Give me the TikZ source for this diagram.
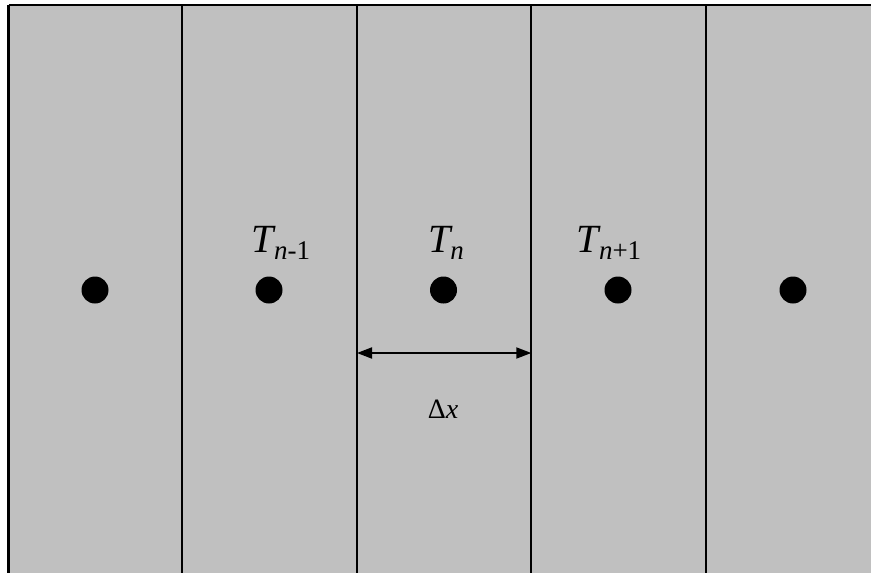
\documentclass[tikz,border=0pt]{standalone}
\usepackage{fontspec}
\setmainfont{Liberation Serif}
\newfontfamily\timesf{Liberation Serif}
\usetikzlibrary{arrows.meta}
\definecolor{cellgray}{RGB}{192,192,192}
\tikzset{
  wall/.style={line width=2pt, black},
  dotnode/.style={circle, fill=black, minimum size=27pt, inner sep=0pt},
  tlabel/.style={inner sep=0pt, anchor=base, font=\timesf},
  dimarrow/.style={line width=1.8pt, {Triangle[length=15pt,width=11pt]}-{Triangle[length=15pt,width=11pt]}}
}
\newcommand{\bigT}{{\fontsize{40}{42}\selectfont\timesf\itshape T}}
\newcommand{\subtxt}[1]{\raisebox{-7pt}{\fontsize{27}{28}\selectfont\timesf #1}}
\begin{document}
\begin{tikzpicture}[x=1pt,y=-1pt]
\useasboundingbox (0,0) rectangle (871,573);
\fill[cellgray] (8.7,5) rectangle (871,573);
% walls
\coordinate (w0t) at (8.7,5);   \coordinate (w0b) at (8.7,573);
\coordinate (w1t) at (182.3,5); \coordinate (w1b) at (182.3,573);
\coordinate (w2t) at (357,5);   \coordinate (w2b) at (357,573);
\coordinate (w3t) at (531.3,5); \coordinate (w3b) at (531.3,573);
\coordinate (w4t) at (705.8,5); \coordinate (w4b) at (705.8,573);
\coordinate (tr) at (871,5);
\draw[wall, line width=2.6pt] (w0b) -- (w0t);
\draw[wall] (w0t) -- (tr);
\draw[wall] (w1t) -- (w1b);
\draw[wall] (w2t) -- (w2b);
\draw[wall] (w3t) -- (w3b);
\draw[wall] (w4t) -- (w4b);
% dots
\node[dotnode] (d1) at (95,290) {};
\node[dotnode] (d2) at (269,290) {};
\node[dotnode] (d3) at (443.5,290) {};
\node[dotnode] (d4) at (618,290) {};
\node[dotnode] (d5) at (793,290) {};
% labels
\node[tlabel] (l2) at (281,252) {\bigT\subtxt{\itshape n\upshape -1}};
\node[tlabel] (l3) at (446,252) {\bigT\subtxt{\itshape n}};
\node[tlabel] (l4) at (609,252) {\bigT\subtxt{\itshape n\upshape +1}};
% dimension
\coordinate (a1) at (357,353);
\coordinate (a2) at (531.3,353);
\draw[dimarrow] (a1) -- (a2);
\node[tlabel] (dx) at (443,418) {\fontsize{28}{30}\selectfont\timesf Δ\itshape x};
\end{tikzpicture}
\end{document}
